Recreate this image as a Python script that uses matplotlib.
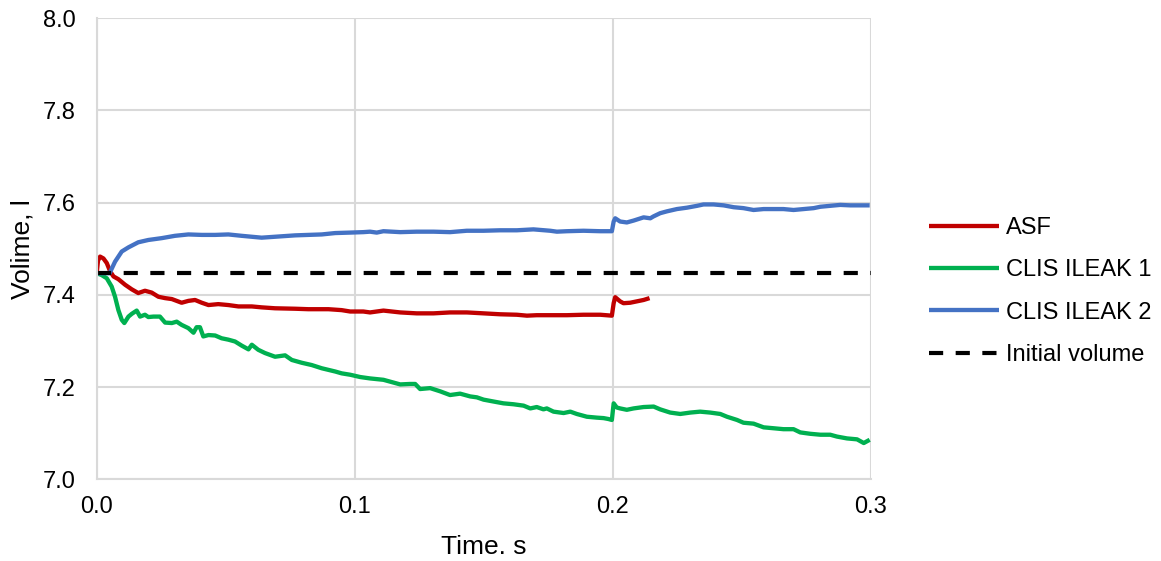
import matplotlib
matplotlib.use("Agg")
import matplotlib.pyplot as plt

# Volume traces, (time s, volume l)
asf = [
    (0.0, 7.447), (0.0005, 7.474), (0.0013, 7.483), (0.0026, 7.479), (0.0039, 7.469),
    (0.0052, 7.451), (0.0065, 7.440), (0.0084, 7.434), (0.0110, 7.422), (0.0136, 7.412),
    (0.0161, 7.404), (0.0187, 7.409), (0.0213, 7.405), (0.0239, 7.396), (0.0265, 7.393),
    (0.0291, 7.391), (0.0329, 7.383), (0.0355, 7.387), (0.0381, 7.389), (0.0407, 7.383),
    (0.0433, 7.378), (0.0471, 7.380), (0.0510, 7.378), (0.0549, 7.375), (0.0601, 7.375),
    (0.0639, 7.373), (0.0691, 7.371), (0.0769, 7.370), (0.0820, 7.369), (0.0898, 7.369),
    (0.0949, 7.367), (0.0982, 7.364), (0.1033, 7.364), (0.1059, 7.362), (0.1111, 7.366),
    (0.1176, 7.362), (0.1240, 7.360), (0.1305, 7.360), (0.1369, 7.362), (0.1434, 7.362),
    (0.1499, 7.360), (0.1563, 7.358), (0.1628, 7.357), (0.1667, 7.355), (0.1705, 7.356),
    (0.1757, 7.356), (0.1822, 7.356), (0.1886, 7.357), (0.1951, 7.357), (0.1996, 7.355),
    (0.2003, 7.382), (0.2009, 7.395), (0.2028, 7.386), (0.2041, 7.382), (0.2067, 7.383),
    (0.2093, 7.386), (0.2119, 7.389), (0.2142, 7.393),
]

clis_ileak_1 = [
    (0.0, 7.447), (0.0019, 7.443), (0.0039, 7.436), (0.0058, 7.418), (0.0071, 7.396),
    (0.0084, 7.367), (0.0097, 7.346), (0.0107, 7.339), (0.0123, 7.353), (0.0136, 7.359),
    (0.0155, 7.366), (0.0168, 7.353), (0.0187, 7.357), (0.0200, 7.352), (0.0220, 7.353),
    (0.0245, 7.353), (0.0265, 7.340), (0.0291, 7.339), (0.0310, 7.342), (0.0329, 7.335),
    (0.0355, 7.328), (0.0375, 7.318), (0.0387, 7.330), (0.0400, 7.330), (0.0413, 7.310),
    (0.0433, 7.313), (0.0459, 7.312), (0.0484, 7.306), (0.0510, 7.303), (0.0536, 7.299),
    (0.0562, 7.290), (0.0588, 7.282), (0.0601, 7.292), (0.0626, 7.281), (0.0652, 7.274),
    (0.0691, 7.266), (0.0717, 7.268), (0.0730, 7.269), (0.0756, 7.259), (0.0794, 7.253),
    (0.0833, 7.248), (0.0872, 7.241), (0.0924, 7.234), (0.0949, 7.230), (0.0982, 7.227),
    (0.1021, 7.222), (0.1059, 7.219), (0.1111, 7.216), (0.1137, 7.212), (0.1176, 7.206),
    (0.1214, 7.207), (0.1234, 7.207), (0.1253, 7.196), (0.1292, 7.198), (0.1331, 7.191),
    (0.1369, 7.183), (0.1408, 7.186), (0.1447, 7.180), (0.1473, 7.178), (0.1499, 7.173),
    (0.1537, 7.169), (0.1576, 7.165), (0.1615, 7.163), (0.1654, 7.160), (0.1680, 7.154),
    (0.1705, 7.157), (0.1731, 7.152), (0.1744, 7.154), (0.1770, 7.147), (0.1809, 7.144),
    (0.1835, 7.147), (0.1860, 7.142), (0.1899, 7.136), (0.1938, 7.134), (0.1964, 7.133),
    (0.1983, 7.131), (0.1996, 7.129), (0.2003, 7.165), (0.2015, 7.156), (0.2028, 7.154),
    (0.2054, 7.151), (0.2080, 7.154), (0.2119, 7.157), (0.2158, 7.158), (0.2183, 7.152),
    (0.2222, 7.145), (0.2261, 7.142), (0.2300, 7.145), (0.2338, 7.147), (0.2377, 7.145),
    (0.2416, 7.142), (0.2442, 7.136), (0.2481, 7.129), (0.2506, 7.123), (0.2545, 7.121),
    (0.2584, 7.113), (0.2623, 7.111), (0.2661, 7.109), (0.2700, 7.109), (0.2726, 7.102),
    (0.2765, 7.099), (0.2804, 7.097), (0.2842, 7.097), (0.2868, 7.093), (0.2907, 7.089),
    (0.2946, 7.087), (0.2972, 7.079), (0.2995, 7.086),
]

clis_ileak_2 = [
    (0.0, 7.447), (0.0050, 7.447), (0.0071, 7.472), (0.0097, 7.494), (0.0123, 7.503),
    (0.0161, 7.514), (0.0200, 7.519), (0.0252, 7.523), (0.0303, 7.528), (0.0355, 7.531),
    (0.0407, 7.530), (0.0459, 7.530), (0.0510, 7.531), (0.0562, 7.528), (0.0639, 7.524),
    (0.0691, 7.526), (0.0769, 7.529), (0.0820, 7.530), (0.0872, 7.531), (0.0924, 7.534),
    (0.0982, 7.535), (0.1033, 7.536), (0.1059, 7.537), (0.1085, 7.535), (0.1111, 7.538),
    (0.1176, 7.536), (0.1240, 7.537), (0.1305, 7.537), (0.1369, 7.536), (0.1434, 7.539),
    (0.1499, 7.539), (0.1563, 7.540), (0.1628, 7.540), (0.1692, 7.542), (0.1757, 7.539),
    (0.1783, 7.537), (0.1822, 7.538), (0.1886, 7.539), (0.1951, 7.538), (0.1996, 7.538),
    (0.2003, 7.559), (0.2009, 7.566), (0.2028, 7.559), (0.2054, 7.557), (0.2080, 7.561),
    (0.2119, 7.568), (0.2145, 7.566), (0.2157, 7.570), (0.2183, 7.577), (0.2209, 7.581),
    (0.2248, 7.586), (0.2287, 7.589), (0.2326, 7.593), (0.2351, 7.596), (0.2390, 7.596),
    (0.2429, 7.594), (0.2468, 7.590), (0.2506, 7.588), (0.2545, 7.584), (0.2584, 7.586),
    (0.2623, 7.586), (0.2661, 7.586), (0.2700, 7.584), (0.2739, 7.586), (0.2778, 7.588),
    (0.2804, 7.591), (0.2842, 7.593), (0.2881, 7.595), (0.2920, 7.594), (0.2959, 7.594),
    (0.2995, 7.594),
]

initial_volume = [(0.0, 7.447), (0.3, 7.447)]

series_labels = ["ASF", "CLIS ILEAK 1", "CLIS ILEAK 2", "Initial volume"]
x_ticks = [0.0, 0.1, 0.2, 0.3]
y_ticks = [7.0, 7.2, 7.4, 7.6, 7.8, 8.0]

plt.rcParams["font.family"] = ["Liberation Sans", "DejaVu Sans"]

fig = plt.figure(figsize=(11.61, 5.61), dpi=100)
ax = fig.add_axes([0.0833, 0.1453, 0.6669, 0.8226])

grid_color = "#D9D9D9"
line_kw = dict(linewidth=3.1, solid_joinstyle="round", solid_capstyle="butt")

styles = [
    dict(color="#C00000", **line_kw),
    dict(color="#00B050", **line_kw),
    dict(color="#4472C4", **line_kw),
    dict(color="black", linewidth=3.0, linestyle=(0, (3.4, 3.0)), dash_capstyle="butt"),
]

handles = []
for data, label, st in zip([asf, clis_ileak_1, clis_ileak_2, initial_volume], series_labels, styles):
    t = [p[0] for p in data]
    v = [p[1] for p in data]
    (h,) = ax.plot(t, v, label=label, **st)
    handles.append(h)

ax.set_xlim(0, 0.3)
ax.set_ylim(7.0, 8.0)
ax.set_xticks(x_ticks)
ax.set_yticks(y_ticks)
ax.set_xticklabels([f"{x:.1f}" for x in x_ticks])
ax.set_yticklabels([f"{y:.1f}" for y in y_ticks])
ax.tick_params(axis="both", length=0, labelsize=17, colors="#000000")
ax.tick_params(axis="y", pad=15)
ax.tick_params(axis="x", pad=12)

ax.grid(True, color=grid_color, linewidth=1.5)
ax.set_axisbelow(True)
for side in ["top", "right"]:
    ax.spines[side].set_visible(False)
for side in ["left", "bottom"]:
    ax.spines[side].set_color(grid_color)
    ax.spines[side].set_linewidth(1.5)

ax.set_xlabel("Time. s", fontsize=19, labelpad=12)
ax.set_ylabel("Volime, l", fontsize=19, labelpad=6)

fig.legend(handles=handles, labels=series_labels, loc="center left",
           bbox_to_anchor=(0.800, 0.4804), frameon=False, fontsize=17,
           handlelength=2.96, handletextpad=0.3, labelspacing=0.86, borderpad=0,
           borderaxespad=0)

fig.savefig("out.png", dpi=100)
